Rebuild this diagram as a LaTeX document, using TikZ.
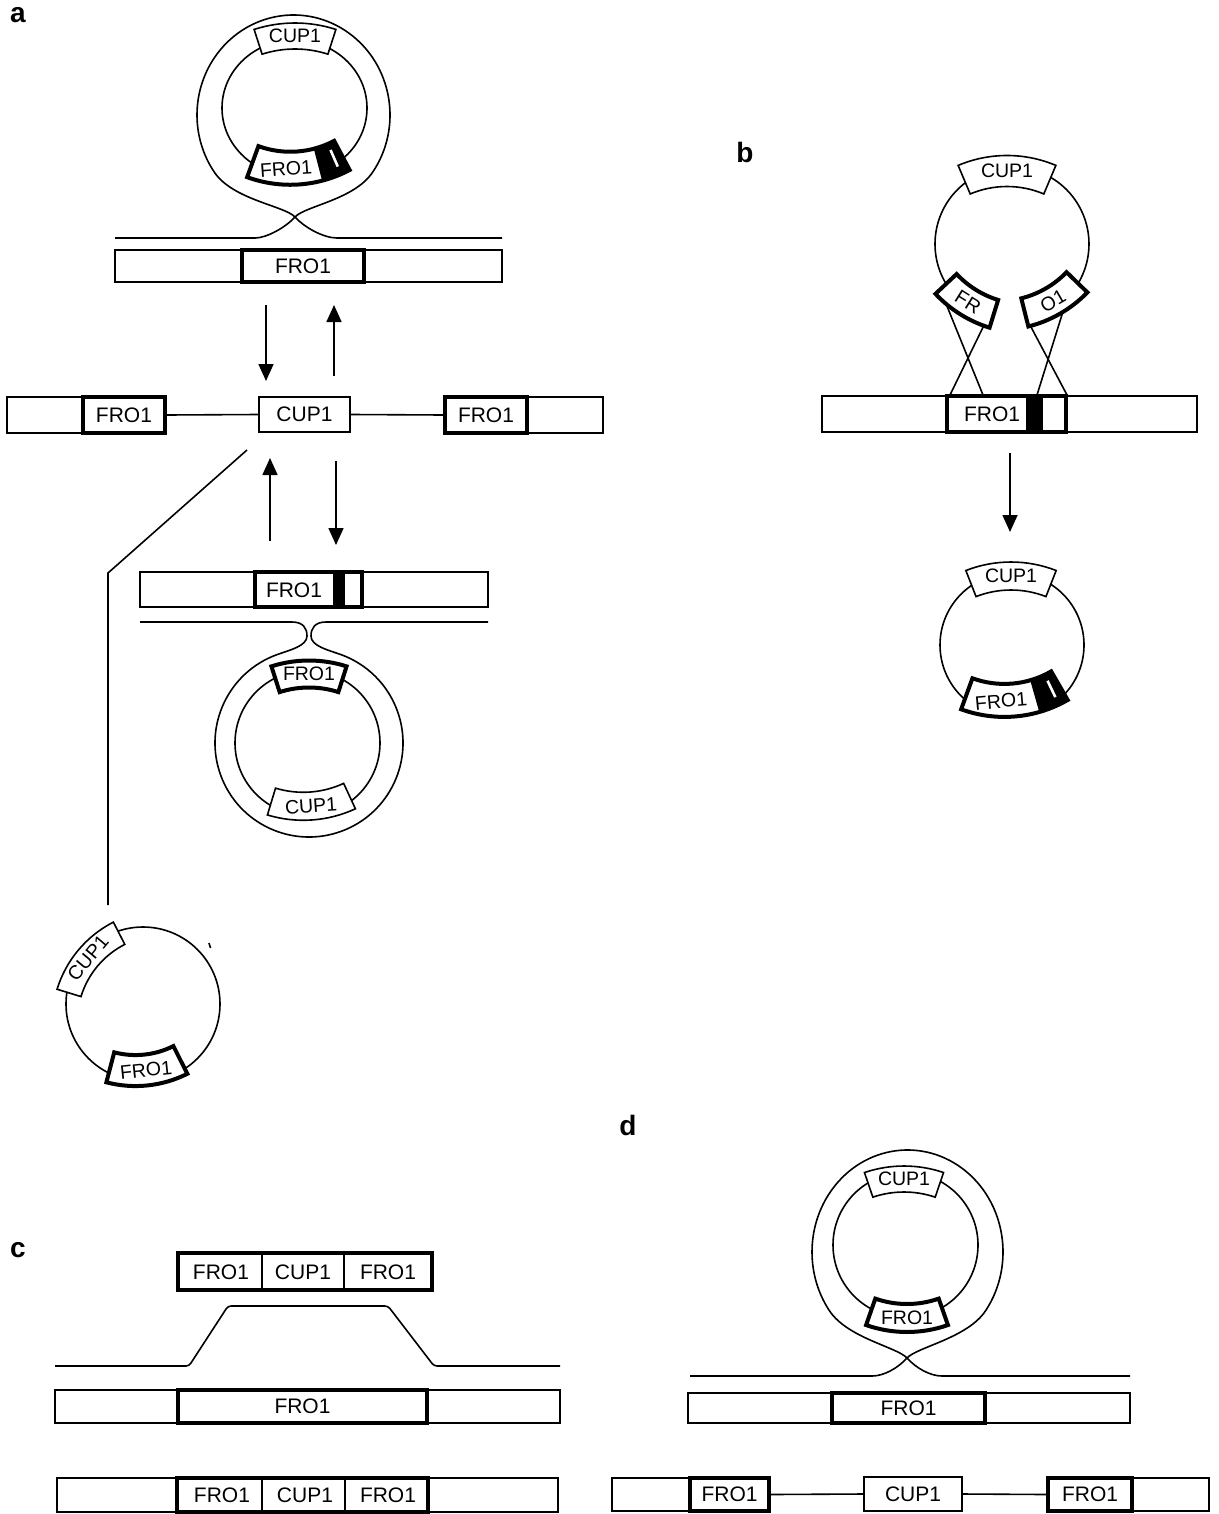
\documentclass[tikz,border=0pt]{standalone}
\usepackage{fontspec}
\setmainfont{Liberation Sans}
\usetikzlibrary{arrows.meta}
\tikzset{
  ln/.style={line width=1.6pt},
  tk/.style={line width=4pt},
  seg/.style={draw, line width=1.6pt, inner sep=0pt, font=\fontsize{21}{23}\selectfont},
  tseg/.style={seg, line width=4pt},
  txt/.style={inner sep=0pt, font=\fontsize{21}{23}\selectfont},
  stxt/.style={inner sep=0pt, font=\fontsize{19.5}{21}\selectfont},
  plab/.style={inner sep=0pt, font=\fontsize{28}{30}\selectfont\bfseries},
  arr/.style={line width=1.6pt, -{Triangle[width=15pt,length=17pt]}},
}
\def\cboff{0}
% curved label box: #1 name, #2 cx, #3 cy, #4 rotation, #5 width, #6 height,
% #7 signed curvature radius (>0: centre below, <0: centre above), #8 border width, #9 text
\newcommand{\cbox}[9]{%
 \pgfmathsetmacro\cbA{deg((#5/2)/abs(#7))}%
 \pgfmathsetmacro\cbRi{abs(#7)-#6/2}%
 \pgfmathsetmacro\cbRo{abs(#7)+#6/2}%
 \pgfmathsetmacro\cbB{(#7>0) ? -90 : 90}%
 \pgfmathsetmacro\cbS{\cbB-\cbA}%
 \pgfmathsetmacro\cbE{\cbB+\cbA}%
 \begin{scope}[shift={(#2,#3)},rotate=#4]
  \filldraw[fill=white,line width=#8] ([shift={(0,#7)}]\cbS:\cbRi) arc[start angle=\cbS,end angle=\cbE,radius=\cbRi] -- ([shift={(0,#7)}]\cbE:\cbRo) arc[start angle=\cbE,end angle=\cbS,radius=\cbRo] -- cycle;
  \coordinate (#1-t) at (\cboff,0);
 \end{scope}
 \node[stxt,rotate=#4] (#1) at (#1-t) {#9};
}
% black right-hand part of a lower (centre above) curved box: #1..#6 as above, #7 fraction
\newcommand{\cblk}[7]{%
 \pgfmathsetmacro\cbA{deg((#4/2)/abs(#6))}%
 \pgfmathsetmacro\cbRi{abs(#6)-#5/2}%
 \pgfmathsetmacro\cbRo{abs(#6)+#5/2}%
 \pgfmathsetmacro\cbS{90-\cbA}%
 \pgfmathsetmacro\cbE{90-\cbA+2*\cbA*#7}%
 \pgfmathsetmacro\cbM{90-\cbA+2*\cbA*#7*0.32}%
 \pgfmathsetmacro\cbTa{\cbRi+0.2*#5}%
 \pgfmathsetmacro\cbTb{\cbRi+0.75*#5}%
 \begin{scope}[shift={(#1,#2)},rotate=#3]
  \fill[black] ([shift={(0,#6)}]\cbS:\cbRi) arc[start angle=\cbS,end angle=\cbE,radius=\cbRi] -- ([shift={(0,#6)}]\cbE:\cbRo) arc[start angle=\cbE,end angle=\cbS,radius=\cbRo] -- cycle;
  \draw[white,line width=2.6pt] ([shift={(0,#6)}]\cbM:\cbTa) -- ([shift={(0,#6)}]\cbM:\cbTb);
 \end{scope}}
\begin{document}
\begin{tikzpicture}[x=1pt,y=-1pt]
\fill[white] (0,0) rectangle (1218,1514);
\useasboundingbox (0,0) rectangle (1218,1514);

% ---------- panel labels
\node[plab] (la) at (18,15) {a};
\node[plab] (lb) at (745,152) {b};
\node[plab] (lc) at (18,1250) {c};
\node[plab] (ld) at (628,1125) {d};

% ================= panel a : top loop
\draw[ln] (115,238) -- (255,238) .. controls (266,238) and (285,228) .. (295,217)
  .. controls (305,206) and (354,199.8) .. (372.55,172.36)
  arc[start angle=35,end angle=-215,x radius=96.5,y radius=100]
  .. controls (233,199.8) and (285,206) .. (295,217)
  .. controls (305,228) and (324,238) .. (337,238) -- (502,238);
\draw[ln] (294.5,108) ellipse[x radius=72.5,y radius=68];
\cbox{aTC}{295}{36}{0}{75}{26}{120}{1.6pt}{CUP1}
\def\cboff{-12}
\cbox{aTF}{298}{168}{4}{92}{33}{-110}{4pt}{FRO1}
\def\cboff{0}
\cblk{298}{168}{4}{92}{33}{-110}{0.28}
\draw[ln] (115,250) rectangle (502,282);
\node[tseg,minimum width=122pt,minimum height=32pt] (aTB) at (303,266) {FRO1};

% arrows between top and middle
\coordinate (a1s) at (266,305); \coordinate (a1e) at (266,381);
\coordinate (a2s) at (334,376); \coordinate (a2e) at (334,305);
\draw[arr] (a1s) -- (a1e);
\draw[arr] (a2s) -- (a2e);

% middle row
\draw[ln] (7,397) rectangle (83,433);
\node[tseg,minimum width=82pt,minimum height=36pt] (amL) at (124,415) {FRO1};
\node[seg,minimum width=91pt,minimum height=35pt] (amC) at (304.5,414.5) {CUP1};
\node[tseg,minimum width=82pt,minimum height=36pt] (amR) at (486,415) {FRO1};
\draw[ln] (527,397) rectangle (603,433);
\draw[ln] (amL.east) -- (amC.west);
\draw[ln] (amC.east) -- (amR.west);

% arrows between middle and lower
\coordinate (a3s) at (270,541); \coordinate (a3e) at (270,458);
\coordinate (a4s) at (336,461); \coordinate (a4e) at (336,545);
\draw[arr] (a3s) -- (a3e);
\draw[arr] (a4s) -- (a4e);

% lower bar with black band
\draw[ln] (140,572) rectangle (488,607);
\fill[black] (333,572) rectangle (345,607);
\draw[tk] (255,572) rectangle (362,607);
\node[txt] (aLBt) at (294,590) {FRO1};

% lower loop
\draw[ln] (140,622) -- (292,622) .. controls (303,622) and (307,628) .. (307,636)
  .. controls (307,646) and (290,650) .. (276.85,654.67)
  arc[start angle=-110,end angle=-430,radius=94]
  .. controls (328,650) and (311,646) .. (311,636)
  .. controls (311,628) and (315,622) .. (326,622) -- (488,622);
\draw[ln] (307.5,743) circle[radius=72.5];
\cbox{aLF}{309}{674}{0}{68}{27}{110}{4pt}{FRO1}
\cbox{aLC}{311}{806}{4}{80}{28}{-110}{1.6pt}{CUP1}

% excised circle
\coordinate (d1) at (247,450); \coordinate (d2) at (108,573); \coordinate (d3) at (108,905);
\draw[ln] (d1) -- (d2) -- (d3);
\draw[ln] (143,1004) circle[radius=77];
\cbox{aXC}{88}{958}{50}{80}{25}{100}{1.6pt}{CUP1}
\cbox{aXF}{146}{1070}{6}{72}{31}{-100}{4pt}{FRO1}
\draw[line width=1.6pt] (209,943) -- (210.5,948);

% ================= panel b
\coordinate (bf1) at (944.5,300); \coordinate (bf1e) at (983,395);
\coordinate (bf2) at (987.5,318); \coordinate (bf2e) at (950,395);
\coordinate (bo1) at (1031,327); \coordinate (bo1e) at (1067,395);
\coordinate (bo2) at (1065,305); \coordinate (bo2e) at (1037,395);
\draw[ln] (bf1) -- (bf1e);
\draw[ln] (bf2) -- (bf2e);
\draw[ln] (bo1) -- (bo1e);
\draw[ln] (bo2) -- (bo2e);
\draw[ln] (957.55,298.45) arc[start angle=135,end angle=410,radius=77];
\cbox{bTC}{1007}{171}{0}{88}{31}{110}{1.6pt}{CUP1}
\cbox{bFR}{968}{302}{-32}{57}{29}{-110}{4pt}{FR}
\cbox{bO1}{1053}{301}{30}{61}{29}{-110}{4pt}{O1}
\draw[ln] (822,396) rectangle (1197,432);
\fill[black] (1026,396) rectangle (1043,432);
\draw[tk] (947,396) rectangle (1066,432);
\node[txt] (bBt) at (992,414) {FRO1};
\coordinate (b1s) at (1010,453); \coordinate (b1e) at (1010,532);
\draw[arr] (b1s) -- (b1e);
\draw[ln] (1012,645) circle[radius=72];
\cbox{bLC}{1011}{576}{0}{82}{28}{110}{1.6pt}{CUP1}
\def\cboff{-13}
\cbox{bLF}{1014}{700}{5}{96}{33}{-110}{4pt}{FRO1}
\def\cboff{0}
\cblk{1014}{700}{5}{96}{33}{-110}{0.28}

% ================= panel c
\draw[tk] (178,1253) rectangle (432,1290);
\draw[ln] (262,1253) -- (262,1290);
\draw[ln] (344,1253) -- (344,1290);
\node[txt] (cT1) at (221,1272) {FRO1};
\node[txt] (cT2) at (303,1272) {CUP1};
\node[txt] (cT3) at (388,1272) {FRO1};
\draw[ln,rounded corners=3pt] (55,1366) -- (189,1366) -- (228,1306) -- (388,1306) -- (434,1366) -- (560,1366);
\draw[ln] (55,1390) rectangle (560,1423);
\node[tseg,minimum width=249pt,minimum height=33pt] (cM) at (302.5,1406.5) {FRO1};
\draw[ln] (57,1478) rectangle (558,1512);
\draw[tk] (177,1478) rectangle (428,1512);
\draw[ln] (262,1478) -- (262,1512);
\draw[ln] (345,1478) -- (345,1512);
\node[txt] (cB1) at (222,1495) {FRO1};
\node[txt] (cB2) at (305,1495) {CUP1};
\node[txt] (cB3) at (388,1495) {FRO1};

% ================= panel d
\draw[ln] (690,1376) -- (872,1376) .. controls (884,1376) and (898,1368) .. (907,1358)
  .. controls (917,1347) and (967.6,1338.1) .. (985.73,1310.5)
  arc[start angle=35,end angle=-215,x radius=95.5,y radius=102]
  .. controls (847.4,1338.1) and (897,1347) .. (907,1358)
  .. controls (916,1368) and (930,1376) .. (942,1376) -- (1130,1376);
\draw[ln] (905.5,1245) circle[radius=72.5];
\cbox{dTC}{904}{1179}{0}{72}{26}{110}{1.6pt}{CUP1}
\cbox{dTF}{907}{1318}{0}{74}{28}{-110}{4pt}{FRO1}
\draw[ln] (688,1393) rectangle (1130,1423);
\node[tseg,minimum width=153pt,minimum height=30pt] (dM) at (908.5,1408) {FRO1};
\draw[ln] (612,1478) rectangle (690,1511);
\node[tseg,minimum width=79pt,minimum height=33pt] (dBL) at (729.5,1494.5) {FRO1};
\node[seg,minimum width=98pt,minimum height=34pt] (dBC) at (913,1494) {CUP1};
\node[tseg,minimum width=84pt,minimum height=33pt] (dBR) at (1090,1494.5) {FRO1};
\draw[ln] (1132,1478) rectangle (1209,1511);
\draw[ln] (dBL.east) -- (dBC.west);
\draw[ln] (dBC.east) -- (dBR.west);
\end{tikzpicture}
\end{document}
